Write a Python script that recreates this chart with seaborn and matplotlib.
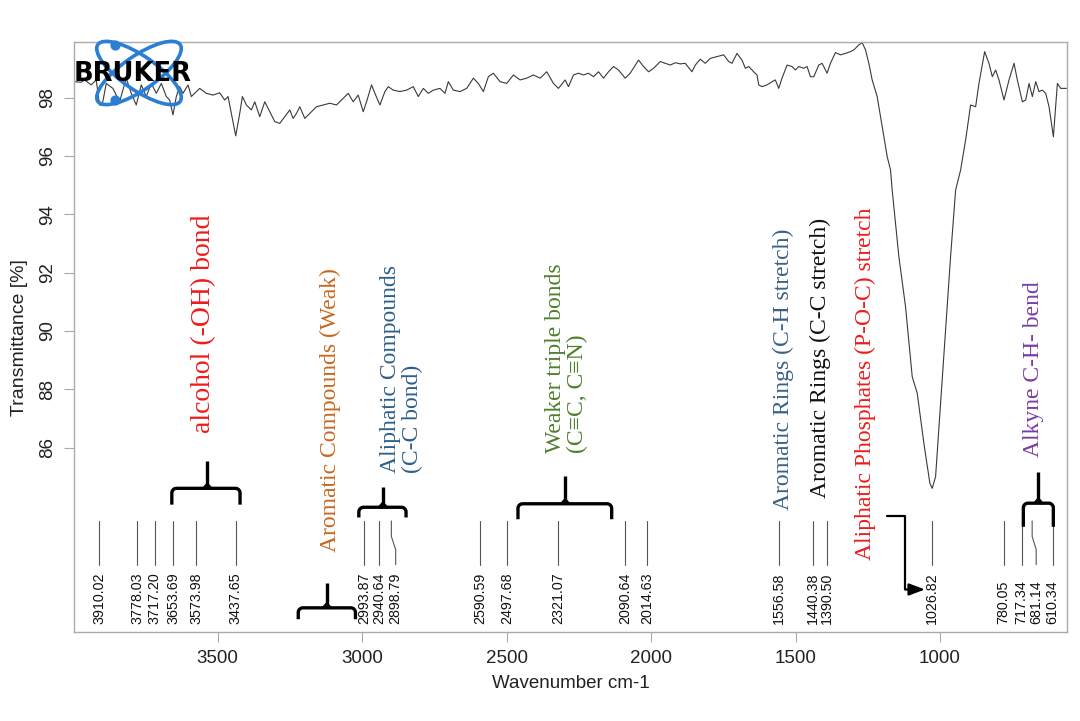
import numpy as np
import pandas as pd
import matplotlib
matplotlib.use("Agg")
import matplotlib.pyplot as plt
import seaborn as sns
from matplotlib.patches import Ellipse

# IR spectrum: wavenumber (cm-1) and transmittance (%)
wavenumber = [
    3996, 3972.1, 3960.6, 3937.5, 3920.2, 3908.6, 3899.4, 3885.5, 3862.4, 3839.3,
    3816.2, 3798.9, 3781.6, 3764.2, 3746.9, 3729.6, 3712.2, 3694.9, 3677.6, 3666.1,
    3654.5, 3643.0, 3631.4, 3619.9, 3602.5, 3591.0, 3573.6, 3562.1, 3539.0, 3515.9,
    3492.8, 3475.5, 3463.9, 3452.4, 3437.4, 3423.5, 3414.3, 3400.4, 3383.1, 3371.5,
    3354.2, 3336.9, 3319.6, 3302.2, 3284.9, 3267.6, 3250.2, 3238.7, 3227.1, 3215.6,
    3198.3, 3180.9, 3157.9, 3134.8, 3111.7, 3088.6, 3065.5, 3048.1, 3030.8, 3013.5,
    2996.1, 2984.6, 2967.3, 2955.7, 2938.4, 2921.1, 2909.5, 2892.2, 2869.1, 2846.0,
    2822.9, 2805.6, 2788.2, 2770.9, 2753.6, 2730.5, 2713.2, 2701.6, 2684.3, 2661.2,
    2638.1, 2615.0, 2597.7, 2580.4, 2563.0, 2545.7, 2522.6, 2499.5, 2476.4, 2453.3,
    2430.2, 2407.1, 2384.0, 2360.9, 2337.8, 2320.5, 2297.4, 2285.8, 2268.5, 2251.2,
    2233.9, 2216.5, 2199.2, 2181.9, 2164.5, 2147.2, 2129.9, 2112.6, 2089.5, 2072.2,
    2043.3, 2026.0, 2008.6, 1991.3, 1968.2, 1950.9, 1933.5, 1916.2, 1898.9, 1881.6,
    1858.5, 1846.9, 1829.6, 1812.3, 1794.9, 1771.9, 1748.8, 1731.4, 1719.9, 1702.6,
    1685.2, 1673.7, 1662.1, 1644.8, 1633.3, 1627.5, 1616.0, 1598.6, 1581.3, 1569.8,
    1558.2, 1546.7, 1529.3, 1512.0, 1500.5, 1488.9, 1471.6, 1460.0, 1448.5, 1436.9,
    1419.6, 1408.1, 1390.7, 1379.2, 1361.8, 1344.5, 1327.2, 1309.9, 1298.3, 1281.0,
    1269.4, 1257.9, 1246.3, 1234.8, 1217.5, 1200.1, 1182.8, 1171.2, 1165.5, 1142.4,
    1119.3, 1096.2, 1078.8, 1055.8, 1035.0, 1026.9, 1015.3, 998.0, 980.7, 963.4,
    946.0, 928.7, 911.4, 894.1, 876.7, 865.2, 845.5, 830.5, 819.0, 807.4,
    795.9, 778.6, 761.2, 743.9, 732.4, 715.0, 703.5, 691.9, 680.4, 668.8,
    657.3, 645.7, 634.2, 622.6, 607.6, 593.8, 582.2, 561.5,
]
transmittance = [
    98.55, 98.53, 98.61, 98.44, 98.61, 97.75, 97.75, 98.49, 98.32, 97.86,
    98.67, 98.15, 97.75, 98.44, 98.04, 98.49, 98.15, 98.49, 98.04, 97.92,
    97.41, 98.04, 98.38, 98.15, 98.44, 98.04, 98.21, 98.32, 98.15, 98.09,
    98.17, 97.92, 98.04, 97.46, 96.69, 97.46, 98.04, 97.75, 97.58, 97.86,
    97.35, 97.86, 97.52, 97.18, 97.12, 97.35, 97.58, 97.29, 97.46, 97.69,
    97.29, 97.46, 97.69, 97.75, 97.81, 97.75, 97.98, 98.15, 97.86, 98.09,
    97.52, 97.86, 98.44, 98.15, 97.75, 98.21, 98.38, 98.26, 98.21, 98.26,
    98.38, 98.04, 98.32, 98.15, 98.26, 98.32, 98.15, 98.55, 98.26, 98.21,
    98.32, 98.67, 98.49, 98.21, 98.72, 98.84, 98.55, 98.49, 98.78, 98.61,
    98.67, 98.78, 98.67, 98.89, 98.49, 98.32, 98.61, 98.38, 98.78, 98.84,
    98.78, 98.84, 98.72, 98.89, 98.67, 98.89, 99.07, 98.95, 98.67, 98.84,
    99.29, 99.07, 98.89, 99.01, 99.24, 99.18, 99.12, 99.20, 99.16, 99.18,
    98.89, 99.12, 99.32, 99.18, 99.35, 99.41, 99.47, 99.24, 99.18, 99.52,
    99.29, 99.01, 99.07, 98.89, 98.78, 98.44, 98.38, 98.44, 98.55, 98.61,
    98.32, 98.67, 99.12, 99.07, 98.95, 99.07, 99.01, 99.07, 98.72, 98.72,
    99.12, 99.18, 98.84, 99.18, 99.55, 99.47, 99.52, 99.58, 99.64, 99.81,
    99.89, 99.64, 99.18, 98.61, 98.04, 97.01, 95.98, 95.52, 94.83, 92.55,
    90.83, 88.43, 87.86, 86.14, 84.77, 84.60, 85.00, 87.52, 90.03, 92.55,
    94.83, 95.52, 96.55, 97.75, 97.69, 98.49, 99.58, 99.18, 98.72, 98.95,
    98.61, 97.92, 98.61, 99.18, 98.61, 97.86, 97.92, 98.49, 98.04, 98.55,
    98.21, 98.26, 98.15, 97.69, 96.66, 98.49, 98.32, 98.32,
]

# picked peaks
peak_positions = [3910.02, 3778.03, 3717.20, 3653.69, 3573.98, 3437.65,
                  2993.87, 2940.64, 2898.79, 2590.59, 2497.68, 2321.07,
                  2090.64, 2014.63, 1556.58, 1440.38, 1390.50, 1026.82,
                  780.05, 717.34, 681.14, 610.34]

# band assignments: text, anchor wavenumber
band_texts = ["alcohol (-OH) bond",
              "Aromatic Compounds (Weak)",
              "Aliphatic Compounds\n(C-C bond)",
              "Weaker triple bonds\n(C\u2261C, C\u2261N)",
              "Aromatic Rings (C-H stretch)",
              "Aromatic Rings (C-C stretch)",
              "Aliphatic Phosphates (P-O-C) stretch",
              "Alkyne C-H- bend"]
band_centers = [3547, 3111, 2864, 2294, 1543, 1415, 1259, 678]

# brace ranges (left, right, stem) in cm-1
brace_left = [3658.5, 3221.0, 3011.3, 2460.6, 711.6]
brace_right = [3422.4, 3023.0, 2847.9, 2136.3, 607.8]
brace_mid = [3535.6, 3122.0, 2927.9, 2297.2, 659.7]

# ---- layout / style ----
band_bottoms = [86.50, 82.42, 85.13, 85.81, 83.86, 84.27, 82.14, 85.68]
band_colors = ["#ee1c1c", "#c8671f", "#2e5f8a", "#4f7f2f",
               "#3a6184", "#111111", "#ee1c1c", "#7a3ca8"]
band_sizes = [20, 17, 17, 17, 17, 17, 17, 17]
# brace y levels: bar, hook end, stem top
brace_levels = [(84.60, 84.04, 85.55), (80.50, 80.11, 81.35), (83.95, 83.60, 84.66),
                (84.07, 83.54, 85.02), (84.09, 83.28, 85.17)]
label_nudge = {2898.79: -15, 681.14: -14}
corner_dx, corner_dy = 16.0, 0.16   # ~5 px rounding in data units


def brace_path(l, r, bar, end):
    th = np.linspace(0, np.pi / 2, 7)
    lx = (l - corner_dx) + corner_dx * np.cos(th)
    ly = (bar - corner_dy) + corner_dy * np.sin(th)
    rx = (r + corner_dx) - corner_dx * np.cos(th[::-1])
    ry = (bar - corner_dy) + corner_dy * np.sin(th[::-1])
    xs = np.concatenate([[l], lx, rx, [r]])
    ys = np.concatenate([[end], ly, ry, [end]])
    return xs, ys


sns.set_theme(style="white")
plt.rcParams["font.family"] = ["Liberation Sans", "DejaVu Sans"]

df = pd.DataFrame({"wavenumber": wavenumber, "transmittance": transmittance})

fig = plt.figure(figsize=(10.8, 7.21), dpi=100)
ax = fig.add_axes([0.0688, 0.1234, 0.9189, 0.8179])

sns.lineplot(data=df, x="wavenumber", y="transmittance", ax=ax,
             color="#3a3a3a", linewidth=0.8, estimator=None)

ax.set_xlim(3996, 561.5)
ax.set_ylim(79.67, 99.90)

# peak markers and labels
line_top, line_bot, label_base = 83.48, 81.98, 79.95
for p in peak_positions:
    q = p + label_nudge.get(p, 0)
    if q == p:
        ax.plot([p, p], [line_top, line_bot], color="#555555", lw=0.8)
    else:
        ax.plot([p, p, q, q], [line_top, 82.95, 82.50, line_bot], color="#555555", lw=0.8)
    ax.text(q, label_base, f"{p:.2f}", rotation=90, ha="center", va="bottom",
            fontsize=10.3, color="#111111")

# braces
for l, r, m, (bar, end, top) in zip(brace_left, brace_right, brace_mid, brace_levels):
    xs, ys = brace_path(l, r, bar, end)
    ax.plot(xs, ys, color="black", lw=2.4, solid_joinstyle="round", solid_capstyle="butt")
    ax.plot([m, m], [bar, top], color="black", lw=2.4, solid_capstyle="butt")
    ax.plot([m + corner_dx * 0.8, m, m - corner_dx * 0.8],
            [bar, bar + corner_dy * 0.9, bar], color="black", lw=2.0)

# band assignment texts
for txt, c, b, col, fs in zip(band_texts, band_centers, band_bottoms, band_colors, band_sizes):
    ax.text(c, b, txt, rotation=90, ha="center", va="bottom", fontsize=fs, color=col,
            family=["Liberation Serif", "DejaVu Serif"], multialignment="left",
            linespacing=1.05)

# arrow from phosphate text to the 1026 peak
ax.plot([1182.4, 1121.1, 1121.1], [83.65, 83.65, 81.13], color="black", lw=1.6)
ax.annotate("", xy=(1051.9, 81.13), xytext=(1121.1, 81.13),
            arrowprops=dict(arrowstyle="-|>,head_length=0.8,head_width=0.3",
                            color="black", lw=1.6, shrinkA=0, shrinkB=0))

# axes styling
ax.set_xticks([3500, 3000, 2500, 2000, 1500, 1000])
ax.set_yticks([86, 88, 90, 92, 94, 96, 98])
ax.set_xlabel("Wavenumber cm-1", fontsize=13.5, color="#222222", labelpad=6)
ax.set_ylabel("Transmittance [%]", fontsize=14, color="#222222", labelpad=8)
ax.tick_params(axis="both", which="both", length=7, width=0.8, color="#aaaaaa",
               labelsize=13.5, labelcolor="#222222", bottom=True, left=True)
ax.tick_params(axis="x", pad=6)
ax.tick_params(axis="y", pad=6)
for lbl in ax.get_yticklabels():
    lbl.set_rotation(90)
    lbl.set_va("center")
for s in ax.spines.values():
    s.set_color("#aaaaaa")
    s.set_linewidth(1.0)

# instrument logo (decoration)
logo = fig.add_axes([75 / 1080, 1 - 110 / 721, 120 / 1080, 72 / 721])
logo.set_xlim(75, 195)
logo.set_ylim(110, 38)
logo.axis("off")
logo.patch.set_alpha(0)
for ang in (34.6, -34.6):
    logo.add_patch(Ellipse((139, 73), 100, 34, angle=ang, fill=False,
                           edgecolor="#2a7fd4", lw=2.6))
logo.scatter([115, 115], [45, 100], s=40, color="#2a7fd4", zorder=3)
logo.text(132.5, 74, "BRUKER", ha="center", va="center", fontsize=18.5,
          fontweight="heavy", family="DejaVu Sans", color="black", zorder=4)

fig.savefig("out.png", dpi=100)
